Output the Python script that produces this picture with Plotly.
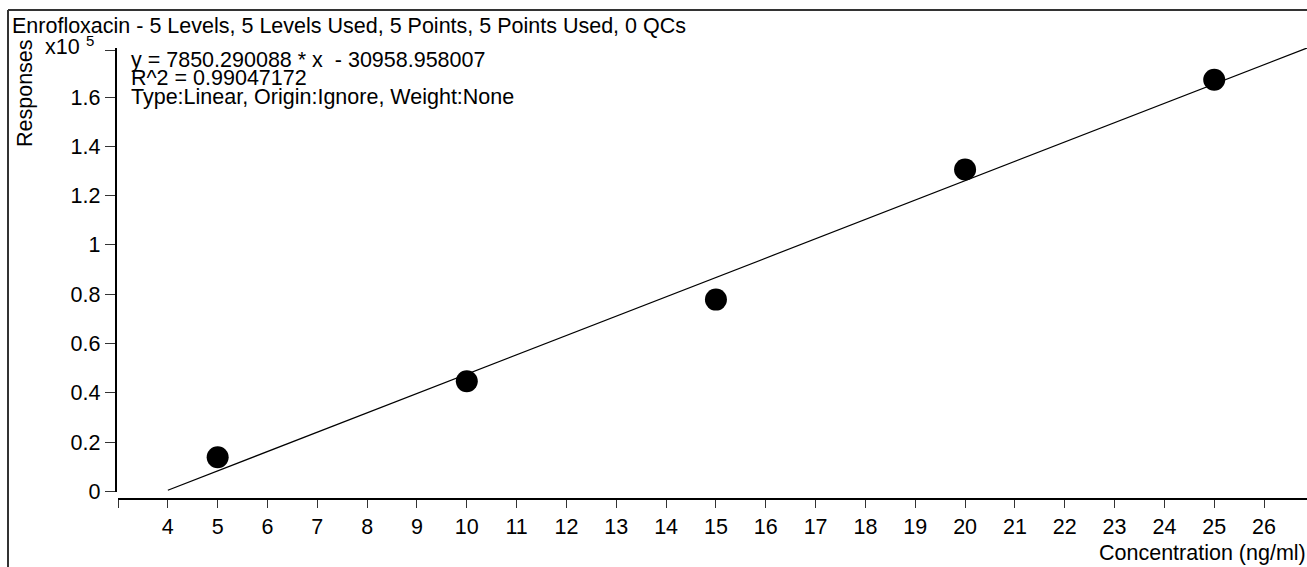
import plotly.graph_objects as go

# Calibration data for Enrofloxacin
concentration = [5, 10, 15, 20, 25]          # ng/ml
response = [13800, 44700, 77800, 130600, 167000]

slope = 7850.290088
intercept = -30958.958007
r_squared = 0.99047172

x_ticks = list(range(3, 27))
x_tick_text = [""] + [str(v) for v in range(4, 27)]
y_ticks = [0, 20000, 40000, 60000, 80000, 100000, 120000, 140000, 160000, 179100]
y_tick_text = ["0", "0.2", "0.4", "0.6", "0.8", "1", "1.2", "1.4", "1.6", ""]

title_text = "Enrofloxacin - 5 Levels, 5 Levels Used, 5 Points, 5 Points Used, 0 QCs"
fit_lines = [
    "y = %.6f * x  - %.6f" % (slope, -intercept),
    "R^2 = %.8f" % r_squared,
    "Type:Linear, Origin:Ignore, Weight:None",
]

W, H = 1307, 567
FONT = "Liberation Sans, Arial, sans-serif"
FS = 21.5

x_min, x_max = 3, 26.862
y_min, y_max = -284, 179910

# fitted line across the visible concentration range
line_x = [4, x_max]
line_y = [slope * v + intercept for v in line_x]


def px(x):
    return x / W


def py(y):
    return 1 - y / H


fig = go.Figure()
fig.add_trace(go.Scatter(
    x=line_x, y=line_y, mode="lines",
    line=dict(color="black", width=1.2),
    hoverinfo="skip", showlegend=False,
))
fig.add_trace(go.Scatter(
    x=concentration, y=response, mode="markers",
    marker=dict(color="black", size=22, line=dict(width=0)),
    cliponaxis=False, showlegend=False,
))

axis_font = dict(family=FONT, size=FS, color="black")

fig.update_layout(
    template="none",
    width=W, height=H,
    margin=dict(l=0, r=0, t=0, b=0, pad=0),
    paper_bgcolor="white", plot_bgcolor="white",
    showlegend=False,
    xaxis=dict(
        domain=[px(118), 1], range=[x_min, x_max],
        anchor="free", position=py(499), automargin=False,
        tickmode="array", tickvals=x_ticks, ticktext=x_tick_text,
        ticks="outside", ticklen=8, tickwidth=1, tickcolor="#333",
        showline=True, linecolor="black", linewidth=1.5,
        showgrid=False, zeroline=False, tickfont=axis_font,
    ),
    yaxis=dict(
        domain=[py(492), py(48)], range=[y_min, y_max],
        anchor="free", position=px(115.5), automargin=False,
        tickmode="array", tickvals=y_ticks, ticktext=y_tick_text,
        ticks="outside", ticklen=10, tickwidth=1, tickcolor="#333",
        showline=True, linecolor="black", linewidth=1.5,
        showgrid=False, zeroline=False, tickfont=axis_font,
    ),
    font=axis_font,
)

annotations = [
    dict(x=px(11), y=py(26), text=title_text, xanchor="left", yanchor="middle"),
    dict(x=px(25), y=py(38), text="Responses", textangle=-90,
         xanchor="center", yanchor="top"),
    dict(x=px(81), y=py(47), text="x10", xanchor="right", yanchor="middle"),
    dict(x=px(85), y=py(41), text="5", xanchor="left", yanchor="middle",
         font=dict(family=FONT, size=15, color="black")),
    dict(x=1, y=py(553), text="Concentration (ng/ml)", xanchor="right", yanchor="middle"),
]
for i, t in enumerate(fit_lines):
    annotations.append(dict(x=px(130), y=py(60 + 18.3 * i), text=t,
                            xanchor="left", yanchor="middle"))
for a in annotations:
    a.update(xref="paper", yref="paper", showarrow=False, borderpad=0)
    a.setdefault("font", axis_font)
fig.update_layout(annotations=annotations)

# outer frame: top and left border
fig.add_shape(type="line", xref="paper", yref="paper",
              x0=px(8), x1=1, y0=py(10), y1=py(10),
              line=dict(color="#333", width=2))
fig.add_shape(type="line", xref="paper", yref="paper",
              x0=px(8), x1=px(8), y0=py(10), y1=0,
              line=dict(color="#333", width=2))

fig.write_html("out.html")
